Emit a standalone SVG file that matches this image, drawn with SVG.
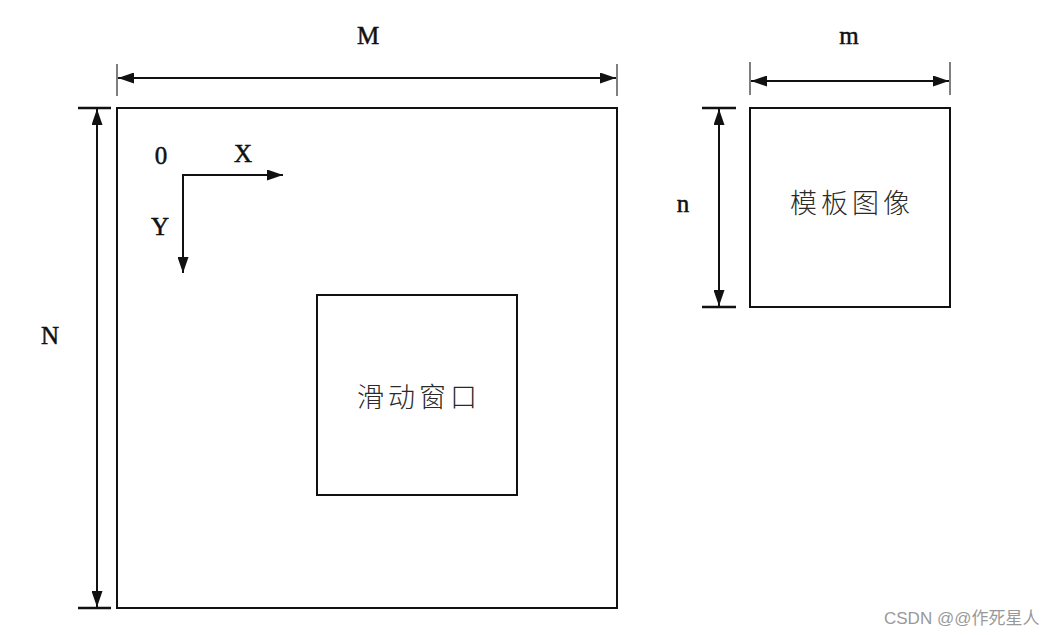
<svg xmlns="http://www.w3.org/2000/svg" width="1061" height="635" viewBox="0 0 1061 635">
<style>
.box{fill:none;stroke:#111;stroke-width:2}
.dim{stroke:#111;stroke-width:2;fill:none}
.tick{stroke:#555;stroke-width:1.5}
.bar{stroke:#111;stroke-width:2.5}
.lbl{font-family:"Liberation Serif",serif;font-size:25px;fill:#111;stroke:#111;stroke-width:0.5;text-anchor:middle}
.cjk{font-family:"Noto Sans CJK SC",sans-serif;font-size:27px;fill:#2a2a2a;text-anchor:middle;letter-spacing:4px;font-weight:300}
.wm{font-family:"Liberation Sans","Noto Sans CJK SC",sans-serif;font-size:17px;fill:#999}
</style>
<defs>
<marker id="ah" viewBox="0 0 16 11" refX="16" refY="5.5" markerWidth="16" markerHeight="11" markerUnits="userSpaceOnUse" orient="auto-start-reverse">
<path d="M0,0 L16,5.5 L0,11 Z" fill="#111"/>
</marker>
</defs>
<rect width="1061" height="635" fill="#fff"/>
<g id="image">
<rect class="box" x="117" y="108" width="500" height="500"/>
</g>
<g id="window">
<rect class="box" x="317" y="295" width="200" height="200"/>
<text class="cjk" x="419" y="407">滑动窗口</text>
</g>
<g id="template">
<rect class="box" x="750" y="108" width="200" height="199"/>
<text class="cjk" x="852" y="213">模板图像</text>
</g>
<g id="labels">
<text class="lbl" x="368" y="44">M</text>
<text class="lbl" x="50" y="344">N</text>
<text class="lbl" x="849" y="44">m</text>
<text class="lbl" x="683" y="212">n</text>
<text class="lbl" x="161" y="164">0</text>
<text class="lbl" x="243" y="162">X</text>
<text class="lbl" x="160" y="235">Y</text>
<text class="wm" x="884" y="624">CSDN @@作死星人</text>
</g>
<g id="connectors">
<line class="tick" x1="117" y1="64" x2="117" y2="96"/>
<line class="tick" x1="617" y1="64" x2="617" y2="96"/>
<line class="dim" x1="118" y1="78" x2="616" y2="78" marker-start="url(#ah)" marker-end="url(#ah)"/>
<line class="tick" x1="750" y1="62" x2="750" y2="95"/>
<line class="tick" x1="950" y1="62" x2="950" y2="95"/>
<line class="dim" x1="751" y1="81" x2="949" y2="81" marker-start="url(#ah)" marker-end="url(#ah)"/>
<line class="bar" x1="78" y1="108" x2="111" y2="108"/>
<line class="bar" x1="78" y1="608" x2="111" y2="608"/>
<line class="dim" x1="97" y1="109" x2="97" y2="607" marker-start="url(#ah)" marker-end="url(#ah)"/>
<line class="bar" x1="702" y1="108" x2="736" y2="108"/>
<line class="bar" x1="702" y1="307" x2="736" y2="307"/>
<line class="dim" x1="719" y1="109" x2="719" y2="306" marker-start="url(#ah)" marker-end="url(#ah)"/>
<path class="dim" d="M283,175 L183,175 L183,273" marker-start="url(#ah)" marker-end="url(#ah)"/>
</g>
</svg>
